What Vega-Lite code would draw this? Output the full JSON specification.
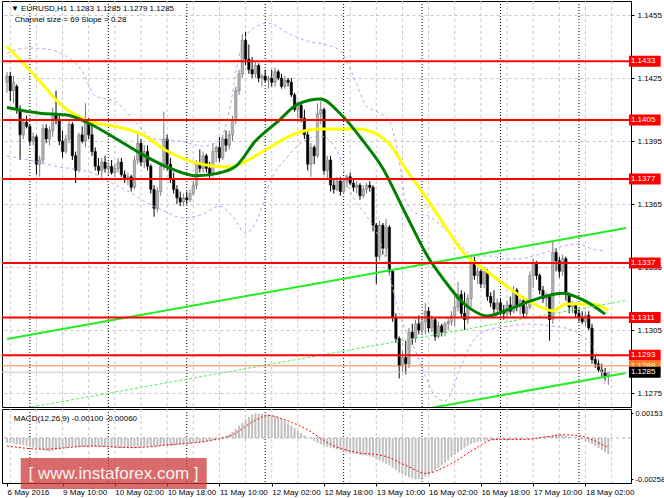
{
  "$schema": "https://vega.github.io/schema/vega-lite/v6.json",
  "background": "white",
  "padding": 0,
  "autosize": {"type": "pad"},
  "spacing": 0,
  "config": {
    "view": {"stroke": "#000000", "strokeWidth": 1},
    "font": "Liberation Sans",
    "axis": {"labelFont": "Liberation Sans", "labelFontSize": 8, "labelColor": "#000000", "tickColor": "#000000", "domainColor": "#000000", "labelOverlap": false, "labelBound": false, "labelFlush": false, "title": null}
  },
  "datasets": {
    "bars": [
      {"i":0,"o":1.1423,"h":1.1428,"l":1.1418,"c":1.1426,"m":-0.0003},
      {"i":1,"o":1.1426,"h":1.1428,"l":1.1414,"c":1.1419,"m":-0.00032},
      {"i":2,"o":1.1419,"h":1.1426,"l":1.1413,"c":1.1423,"m":-0.00035},
      {"i":3,"o":1.1421,"h":1.1422,"l":1.1408,"c":1.141,"m":-0.00038},
      {"i":4,"o":1.141,"h":1.1412,"l":1.1386,"c":1.1398,"m":-0.0004},
      {"i":5,"o":1.1398,"h":1.1406,"l":1.1396,"c":1.1404,"m":-0.00045},
      {"i":6,"o":1.1404,"h":1.1407,"l":1.1401,"c":1.1402,"m":-0.0005},
      {"i":7,"o":1.1402,"h":1.1403,"l":1.1393,"c":1.1395,"m":-0.00055},
      {"i":8,"o":1.1395,"h":1.1399,"l":1.1393,"c":1.1397,"m":-0.0006},
      {"i":9,"o":1.1397,"h":1.1398,"l":1.1379,"c":1.1384,"m":-0.00065},
      {"i":10,"o":1.1384,"h":1.1388,"l":1.1378,"c":1.1386,"m":-0.0007},
      {"i":11,"o":1.1386,"h":1.1403,"l":1.1384,"c":1.1401,"m":-0.00075},
      {"i":12,"o":1.1401,"h":1.1403,"l":1.1394,"c":1.1396,"m":-0.0008},
      {"i":13,"o":1.1396,"h":1.1402,"l":1.1393,"c":1.14,"m":-0.00085},
      {"i":14,"o":1.14,"h":1.1411,"l":1.1397,"c":1.1408,"m":-0.0008},
      {"i":15,"o":1.1408,"h":1.1419,"l":1.1403,"c":1.1405,"m":-0.00075},
      {"i":16,"o":1.1405,"h":1.1407,"l":1.1393,"c":1.1395,"m":-0.0007},
      {"i":17,"o":1.1395,"h":1.14,"l":1.1387,"c":1.139,"m":-0.00066},
      {"i":18,"o":1.139,"h":1.1398,"l":1.1389,"c":1.1396,"m":-0.00062},
      {"i":19,"o":1.1396,"h":1.1405,"l":1.1394,"c":1.1403,"m":-0.00058},
      {"i":20,"o":1.1403,"h":1.1404,"l":1.1386,"c":1.1388,"m":-0.00056},
      {"i":21,"o":1.1388,"h":1.139,"l":1.1375,"c":1.1381,"m":-0.00054},
      {"i":22,"o":1.1381,"h":1.1399,"l":1.138,"c":1.1398,"m":-0.00055},
      {"i":23,"o":1.1398,"h":1.1402,"l":1.1394,"c":1.1395,"m":-0.00057},
      {"i":24,"o":1.1395,"h":1.1413,"l":1.1392,"c":1.1405,"m":-0.00055},
      {"i":25,"o":1.1405,"h":1.1406,"l":1.1396,"c":1.1398,"m":-0.00052},
      {"i":26,"o":1.1398,"h":1.1403,"l":1.1388,"c":1.139,"m":-0.00054},
      {"i":27,"o":1.139,"h":1.1392,"l":1.1381,"c":1.1383,"m":-0.00056},
      {"i":28,"o":1.1383,"h":1.1387,"l":1.1379,"c":1.1381,"m":-0.00058},
      {"i":29,"o":1.1381,"h":1.1387,"l":1.1378,"c":1.1385,"m":-0.00057},
      {"i":30,"o":1.1385,"h":1.1388,"l":1.138,"c":1.1382,"m":-0.00056},
      {"i":31,"o":1.1382,"h":1.1385,"l":1.1379,"c":1.1383,"m":-0.00058},
      {"i":32,"o":1.1383,"h":1.1386,"l":1.1379,"c":1.138,"m":-0.0006},
      {"i":33,"o":1.138,"h":1.1384,"l":1.1378,"c":1.1382,"m":-0.00062},
      {"i":34,"o":1.1382,"h":1.1387,"l":1.138,"c":1.1385,"m":-0.00063},
      {"i":35,"o":1.1385,"h":1.1387,"l":1.1378,"c":1.1379,"m":-0.00062},
      {"i":36,"o":1.1379,"h":1.1381,"l":1.1375,"c":1.1377,"m":-0.0006},
      {"i":37,"o":1.1377,"h":1.138,"l":1.1374,"c":1.1378,"m":-0.00062},
      {"i":38,"o":1.1378,"h":1.1379,"l":1.1371,"c":1.1373,"m":-0.00064},
      {"i":39,"o":1.1373,"h":1.1388,"l":1.1372,"c":1.1386,"m":-0.00062},
      {"i":40,"o":1.1386,"h":1.1399,"l":1.1384,"c":1.1394,"m":-0.0006},
      {"i":41,"o":1.1394,"h":1.1396,"l":1.1383,"c":1.1385,"m":-0.00058},
      {"i":42,"o":1.1385,"h":1.1393,"l":1.1382,"c":1.139,"m":-0.00056},
      {"i":43,"o":1.139,"h":1.1393,"l":1.1381,"c":1.1383,"m":-0.00052},
      {"i":44,"o":1.1383,"h":1.1384,"l":1.137,"c":1.1372,"m":-0.0005},
      {"i":45,"o":1.1372,"h":1.1374,"l":1.1359,"c":1.1363,"m":-0.00052},
      {"i":46,"o":1.1363,"h":1.1373,"l":1.1361,"c":1.1371,"m":-0.00055},
      {"i":47,"o":1.1371,"h":1.1385,"l":1.1369,"c":1.1383,"m":-0.0005},
      {"i":48,"o":1.1383,"h":1.1409,"l":1.1381,"c":1.1396,"m":-0.00045},
      {"i":49,"o":1.1396,"h":1.1398,"l":1.1381,"c":1.1384,"m":-0.00047},
      {"i":50,"o":1.1384,"h":1.1387,"l":1.1375,"c":1.1377,"m":-0.0005},
      {"i":51,"o":1.1377,"h":1.138,"l":1.137,"c":1.1372,"m":-0.00048},
      {"i":52,"o":1.1372,"h":1.1374,"l":1.1365,"c":1.1368,"m":-0.00045},
      {"i":53,"o":1.1368,"h":1.1371,"l":1.1364,"c":1.1366,"m":-0.00042},
      {"i":54,"o":1.1366,"h":1.137,"l":1.1364,"c":1.1368,"m":-0.0004},
      {"i":55,"o":1.1368,"h":1.1371,"l":1.1365,"c":1.1367,"m":-0.00038},
      {"i":56,"o":1.1367,"h":1.1372,"l":1.1366,"c":1.137,"m":-0.00035},
      {"i":57,"o":1.137,"h":1.1376,"l":1.1369,"c":1.1374,"m":-0.00032},
      {"i":58,"o":1.1374,"h":1.1386,"l":1.1372,"c":1.1384,"m":-0.0003},
      {"i":59,"o":1.1384,"h":1.1391,"l":1.138,"c":1.1382,"m":-0.00028},
      {"i":60,"o":1.1382,"h":1.139,"l":1.138,"c":1.1388,"m":-0.00025},
      {"i":61,"o":1.1388,"h":1.1389,"l":1.138,"c":1.1382,"m":-0.00022},
      {"i":62,"o":1.1382,"h":1.1385,"l":1.1377,"c":1.1379,"m":-0.00018},
      {"i":63,"o":1.1379,"h":1.1394,"l":1.1378,"c":1.139,"m":-0.00012},
      {"i":64,"o":1.139,"h":1.1393,"l":1.1385,"c":1.1392,"m":-0.00008},
      {"i":65,"o":1.1392,"h":1.1397,"l":1.1385,"c":1.1387,"m":-0.00003},
      {"i":66,"o":1.1387,"h":1.1398,"l":1.1386,"c":1.1396,"m":0.00002},
      {"i":67,"o":1.1396,"h":1.14,"l":1.139,"c":1.1393,"m":0.0001},
      {"i":68,"o":1.1393,"h":1.14,"l":1.1391,"c":1.1398,"m":0.00022},
      {"i":69,"o":1.1398,"h":1.1407,"l":1.1395,"c":1.1405,"m":0.00038},
      {"i":70,"o":1.1405,"h":1.1421,"l":1.1403,"c":1.1419,"m":0.00055},
      {"i":71,"o":1.1419,"h":1.1429,"l":1.1417,"c":1.1427,"m":0.00075},
      {"i":72,"o":1.1427,"h":1.1446,"l":1.1425,"c":1.1443,"m":0.00095},
      {"i":73,"o":1.1443,"h":1.1447,"l":1.1431,"c":1.1434,"m":0.00115},
      {"i":74,"o":1.1434,"h":1.1441,"l":1.1427,"c":1.1429,"m":0.0013},
      {"i":75,"o":1.1429,"h":1.1435,"l":1.1425,"c":1.1427,"m":0.00145},
      {"i":76,"o":1.1427,"h":1.1433,"l":1.1425,"c":1.1431,"m":0.00153},
      {"i":77,"o":1.1431,"h":1.1432,"l":1.1423,"c":1.1425,"m":0.00152},
      {"i":78,"o":1.1425,"h":1.1427,"l":1.1421,"c":1.1426,"m":0.0015},
      {"i":79,"o":1.1426,"h":1.1429,"l":1.1423,"c":1.1424,"m":0.00148},
      {"i":80,"o":1.1424,"h":1.1426,"l":1.142,"c":1.1425,"m":0.00145},
      {"i":81,"o":1.1425,"h":1.1429,"l":1.1421,"c":1.1423,"m":0.0014},
      {"i":82,"o":1.1423,"h":1.143,"l":1.1421,"c":1.1428,"m":0.00135},
      {"i":83,"o":1.1428,"h":1.1429,"l":1.1424,"c":1.1425,"m":0.00128},
      {"i":84,"o":1.1425,"h":1.1427,"l":1.142,"c":1.1421,"m":0.00118},
      {"i":85,"o":1.1421,"h":1.1426,"l":1.142,"c":1.1424,"m":0.00105},
      {"i":86,"o":1.1424,"h":1.1425,"l":1.1421,"c":1.1423,"m":0.00092},
      {"i":87,"o":1.1423,"h":1.1425,"l":1.1416,"c":1.1417,"m":0.00078},
      {"i":88,"o":1.1417,"h":1.1418,"l":1.1409,"c":1.141,"m":0.00062},
      {"i":89,"o":1.141,"h":1.1414,"l":1.1404,"c":1.1412,"m":0.00045},
      {"i":90,"o":1.1412,"h":1.1413,"l":1.1404,"c":1.1406,"m":0.0003},
      {"i":91,"o":1.1406,"h":1.141,"l":1.1396,"c":1.1398,"m":0.00015},
      {"i":92,"o":1.1398,"h":1.14,"l":1.1381,"c":1.1384,"m":0.00005},
      {"i":93,"o":1.1384,"h":1.1394,"l":1.1378,"c":1.1392,"m":-0.00005},
      {"i":94,"o":1.1392,"h":1.1393,"l":1.1384,"c":1.1388,"m":-0.0002},
      {"i":95,"o":1.1388,"h":1.1413,"l":1.1387,"c":1.1408,"m":-0.0003},
      {"i":96,"o":1.1408,"h":1.1414,"l":1.1403,"c":1.141,"m":-0.0004},
      {"i":97,"o":1.141,"h":1.1411,"l":1.1379,"c":1.1381,"m":-0.00045},
      {"i":98,"o":1.1381,"h":1.1388,"l":1.1377,"c":1.1386,"m":-0.00055},
      {"i":99,"o":1.1386,"h":1.1388,"l":1.1371,"c":1.1374,"m":-0.0006},
      {"i":100,"o":1.1374,"h":1.1377,"l":1.137,"c":1.1372,"m":-0.00065},
      {"i":101,"o":1.1372,"h":1.1378,"l":1.1371,"c":1.1376,"m":-0.0007},
      {"i":102,"o":1.1376,"h":1.1378,"l":1.1369,"c":1.1371,"m":-0.00075},
      {"i":103,"o":1.1371,"h":1.1377,"l":1.137,"c":1.1376,"m":-0.00085},
      {"i":104,"o":1.1376,"h":1.1379,"l":1.1373,"c":1.1378,"m":-0.0009},
      {"i":105,"o":1.1378,"h":1.138,"l":1.1374,"c":1.1375,"m":-0.00095},
      {"i":106,"o":1.1375,"h":1.1377,"l":1.1371,"c":1.1373,"m":-0.00098},
      {"i":107,"o":1.1373,"h":1.1376,"l":1.137,"c":1.1374,"m":-0.001},
      {"i":108,"o":1.1374,"h":1.1375,"l":1.1367,"c":1.1369,"m":-0.00105},
      {"i":109,"o":1.1369,"h":1.1374,"l":1.1368,"c":1.1372,"m":-0.00108},
      {"i":110,"o":1.1372,"h":1.1375,"l":1.137,"c":1.1374,"m":-0.0011},
      {"i":111,"o":1.1374,"h":1.1376,"l":1.1371,"c":1.1373,"m":-0.00115},
      {"i":112,"o":1.1373,"h":1.1374,"l":1.1352,"c":1.1355,"m":-0.0012},
      {"i":113,"o":1.1355,"h":1.1356,"l":1.1327,"c":1.134,"m":-0.0013},
      {"i":114,"o":1.134,"h":1.1357,"l":1.1338,"c":1.1355,"m":-0.0014},
      {"i":115,"o":1.1355,"h":1.1356,"l":1.1341,"c":1.1344,"m":-0.0015},
      {"i":116,"o":1.1344,"h":1.1358,"l":1.134,"c":1.1354,"m":-0.0016},
      {"i":117,"o":1.1354,"h":1.1355,"l":1.1331,"c":1.1333,"m":-0.0017},
      {"i":118,"o":1.1333,"h":1.1334,"l":1.1309,"c":1.1311,"m":-0.00185},
      {"i":119,"o":1.1311,"h":1.1313,"l":1.1299,"c":1.1301,"m":-0.002},
      {"i":120,"o":1.1301,"h":1.1302,"l":1.1282,"c":1.1288,"m":-0.00215},
      {"i":121,"o":1.1288,"h":1.1295,"l":1.1285,"c":1.1292,"m":-0.00225},
      {"i":122,"o":1.1292,"h":1.13,"l":1.1284,"c":1.1289,"m":-0.00235},
      {"i":123,"o":1.1289,"h":1.1306,"l":1.1287,"c":1.1304,"m":-0.00245},
      {"i":124,"o":1.1304,"h":1.1308,"l":1.1298,"c":1.1301,"m":-0.00252},
      {"i":125,"o":1.1301,"h":1.131,"l":1.1299,"c":1.1308,"m":-0.00258},
      {"i":126,"o":1.1308,"h":1.1312,"l":1.1303,"c":1.1305,"m":-0.00255},
      {"i":127,"o":1.1305,"h":1.1311,"l":1.1303,"c":1.1309,"m":-0.00248},
      {"i":128,"o":1.1309,"h":1.1318,"l":1.1303,"c":1.1314,"m":-0.0024},
      {"i":129,"o":1.1314,"h":1.1316,"l":1.1304,"c":1.1306,"m":-0.0023},
      {"i":130,"o":1.1306,"h":1.1312,"l":1.1304,"c":1.131,"m":-0.00215},
      {"i":131,"o":1.131,"h":1.1311,"l":1.13,"c":1.1302,"m":-0.002},
      {"i":132,"o":1.1302,"h":1.1309,"l":1.1301,"c":1.1307,"m":-0.00185},
      {"i":133,"o":1.1307,"h":1.1308,"l":1.1302,"c":1.1304,"m":-0.0017},
      {"i":134,"o":1.1304,"h":1.1309,"l":1.1302,"c":1.1308,"m":-0.00155},
      {"i":135,"o":1.1308,"h":1.1311,"l":1.1305,"c":1.1309,"m":-0.0014},
      {"i":136,"o":1.1309,"h":1.1314,"l":1.1307,"c":1.1312,"m":-0.0012},
      {"i":137,"o":1.1312,"h":1.1321,"l":1.1307,"c":1.1316,"m":-0.00105},
      {"i":138,"o":1.1316,"h":1.1328,"l":1.1314,"c":1.1322,"m":-0.0009},
      {"i":139,"o":1.1322,"h":1.1324,"l":1.1311,"c":1.1313,"m":-0.00075},
      {"i":140,"o":1.1313,"h":1.1323,"l":1.1305,"c":1.131,"m":-0.0006},
      {"i":141,"o":1.131,"h":1.1322,"l":1.1308,"c":1.132,"m":-0.00048},
      {"i":142,"o":1.132,"h":1.1341,"l":1.1316,"c":1.1338,"m":-0.00038},
      {"i":143,"o":1.1338,"h":1.134,"l":1.1329,"c":1.1331,"m":-0.0003},
      {"i":144,"o":1.1331,"h":1.1335,"l":1.1327,"c":1.1333,"m":-0.00025},
      {"i":145,"o":1.1333,"h":1.1334,"l":1.1325,"c":1.1327,"m":-0.0002},
      {"i":146,"o":1.1327,"h":1.1335,"l":1.1325,"c":1.1333,"m":-0.00018},
      {"i":147,"o":1.1333,"h":1.1334,"l":1.1319,"c":1.1321,"m":-0.00015},
      {"i":148,"o":1.1321,"h":1.1323,"l":1.1316,"c":1.1318,"m":-0.00014},
      {"i":149,"o":1.1318,"h":1.1324,"l":1.1313,"c":1.1315,"m":-0.00015},
      {"i":150,"o":1.1315,"h":1.132,"l":1.1313,"c":1.1318,"m":-0.00013},
      {"i":151,"o":1.1318,"h":1.132,"l":1.1312,"c":1.1314,"m":-0.00012},
      {"i":152,"o":1.1314,"h":1.1317,"l":1.131,"c":1.1313,"m":-0.00014},
      {"i":153,"o":1.1313,"h":1.1319,"l":1.1311,"c":1.1317,"m":-0.00013},
      {"i":154,"o":1.1317,"h":1.1321,"l":1.1312,"c":1.1314,"m":-0.00012},
      {"i":155,"o":1.1314,"h":1.1326,"l":1.1313,"c":1.1324,"m":-0.00011},
      {"i":156,"o":1.1324,"h":1.1325,"l":1.1314,"c":1.1316,"m":-0.0001},
      {"i":157,"o":1.1316,"h":1.132,"l":1.1312,"c":1.1319,"m":-0.00012},
      {"i":158,"o":1.1319,"h":1.1321,"l":1.1311,"c":1.1313,"m":-0.0001},
      {"i":159,"o":1.1313,"h":1.1318,"l":1.1311,"c":1.1316,"m":-0.00008},
      {"i":160,"o":1.1316,"h":1.1333,"l":1.1315,"c":1.1331,"m":-0.00005},
      {"i":161,"o":1.1331,"h":1.1339,"l":1.1325,"c":1.1337,"m":-0.00002},
      {"i":162,"o":1.1337,"h":1.1338,"l":1.1329,"c":1.1331,"m":0.00002},
      {"i":163,"o":1.1331,"h":1.1332,"l":1.1322,"c":1.1324,"m":0.00005},
      {"i":164,"o":1.1324,"h":1.1326,"l":1.1318,"c":1.132,"m":0.00008},
      {"i":165,"o":1.132,"h":1.1323,"l":1.1316,"c":1.1321,"m":0.0001},
      {"i":166,"o":1.1321,"h":1.1322,"l":1.13,"c":1.131,"m":0.00012},
      {"i":167,"o":1.131,"h":1.1347,"l":1.1308,"c":1.1342,"m":0.00015},
      {"i":168,"o":1.1342,"h":1.1344,"l":1.1333,"c":1.1338,"m":0.0002},
      {"i":169,"o":1.1338,"h":1.134,"l":1.133,"c":1.1333,"m":0.00022},
      {"i":170,"o":1.1333,"h":1.1341,"l":1.1331,"c":1.1339,"m":0.00018},
      {"i":171,"o":1.1339,"h":1.134,"l":1.1319,"c":1.1322,"m":0.00012},
      {"i":172,"o":1.1322,"h":1.1323,"l":1.1313,"c":1.1316,"m":0.00008},
      {"i":173,"o":1.1316,"h":1.1319,"l":1.1313,"c":1.1317,"m":0.00003},
      {"i":174,"o":1.1317,"h":1.1318,"l":1.1311,"c":1.1313,"m":-0.00002},
      {"i":175,"o":1.1313,"h":1.1315,"l":1.1309,"c":1.1311,"m":-0.00006},
      {"i":176,"o":1.1311,"h":1.1314,"l":1.1308,"c":1.1309,"m":-0.0001},
      {"i":177,"o":1.1309,"h":1.1314,"l":1.1307,"c":1.1312,"m":-0.0002},
      {"i":178,"o":1.1312,"h":1.1314,"l":1.1305,"c":1.1306,"m":-0.00028},
      {"i":179,"o":1.1306,"h":1.1308,"l":1.1289,"c":1.1291,"m":-0.00038},
      {"i":180,"o":1.1291,"h":1.1293,"l":1.1287,"c":1.1289,"m":-0.0005},
      {"i":181,"o":1.1289,"h":1.1291,"l":1.1285,"c":1.1286,"m":-0.00062},
      {"i":182,"o":1.1286,"h":1.1289,"l":1.1283,"c":1.1285,"m":-0.00075},
      {"i":183,"o":1.1285,"h":1.1287,"l":1.1281,"c":1.1283,"m":-0.00088},
      {"i":184,"o":1.1283,"h":1.1285,"l":1.1279,"c":1.1285,"m":-0.001}
    ],
    "maY": [
      {"i":0,"v":1.144},{"i":10,"v":1.14236},{"i":16,"v":1.1413},{"i":25,"v":1.14045},{"i":33,"v":1.1402},
      {"i":41,"v":1.13984},{"i":49,"v":1.13903},{"i":58,"v":1.13846},{"i":68,"v":1.13827},{"i":72,"v":1.13846},
      {"i":80,"v":1.13917},{"i":88,"v":1.13984},{"i":95,"v":1.14007},{"i":107,"v":1.14007},{"i":113,"v":1.13984},
      {"i":118,"v":1.13917},{"i":121,"v":1.13841},{"i":129,"v":1.13664},{"i":135,"v":1.13522},{"i":140,"v":1.13412},
      {"i":146,"v":1.1334},{"i":152,"v":1.1327},{"i":158,"v":1.13203},{"i":164,"v":1.13155},{"i":167,"v":1.13141},
      {"i":171,"v":1.13174},{"i":179,"v":1.13174},{"i":184,"v":1.13145}
    ],
    "maG": [
      {"i":0,"v":1.1411},{"i":10,"v":1.14083},{"i":18,"v":1.14075},{"i":25,"v":1.14035},{"i":33,"v":1.13965},
      {"i":41,"v":1.1389},{"i":50,"v":1.1382},{"i":58,"v":1.13785},{"i":64,"v":1.13795},{"i":70,"v":1.1383},
      {"i":76,"v":1.1395},{"i":83,"v":1.14045},{"i":89,"v":1.14126},{"i":96,"v":1.1415},{"i":102,"v":1.1408},
      {"i":109,"v":1.1395},{"i":115,"v":1.1382},{"i":122,"v":1.13603},{"i":129,"v":1.13393},{"i":134,"v":1.13283},
      {"i":139,"v":1.13188},{"i":142,"v":1.1315},{"i":147,"v":1.13117},{"i":152,"v":1.1314},{"i":160,"v":1.13188},
      {"i":165,"v":1.13212},{"i":170,"v":1.13226},{"i":177,"v":1.13188},{"i":183,"v":1.13126}
    ],
    "bands": [
      {"s":"u","i":0,"v":1.14369},{"s":"u","i":6,"v":1.14393},{"s":"u","i":12,"v":1.14388},{"s":"u","i":18,"v":1.14355},
      {"s":"u","i":23,"v":1.14283},{"s":"u","i":27,"v":1.14164},{"s":"u","i":33,"v":1.1414},{"s":"u","i":39,"v":1.14045},
      {"s":"u","i":45,"v":1.1396},{"s":"u","i":53,"v":1.1395},{"s":"u","i":60,"v":1.13926},{"s":"u","i":65,"v":1.1395},
      {"s":"u","i":68,"v":1.14093},{"s":"u","i":71,"v":1.14355},{"s":"u","i":75,"v":1.14483},{"s":"u","i":80,"v":1.14512},
      {"s":"u","i":86,"v":1.14464},{"s":"u","i":92,"v":1.14426},{"s":"u","i":98,"v":1.14407},{"s":"u","i":102,"v":1.14379},
      {"s":"u","i":106,"v":1.1426},{"s":"u","i":110,"v":1.14117},{"s":"u","i":114,"v":1.14084},{"s":"u","i":117,"v":1.14045},
      {"s":"u","i":120,"v":1.13855},{"s":"u","i":122,"v":1.13665},{"s":"u","i":125,"v":1.13607},{"s":"u","i":129,"v":1.13593},
      {"s":"u","i":134,"v":1.13531},{"s":"u","i":139,"v":1.1345},{"s":"u","i":143,"v":1.13403},{"s":"u","i":148,"v":1.13403},
      {"s":"u","i":152,"v":1.13389},{"s":"u","i":157,"v":1.13389},{"s":"u","i":161,"v":1.13403},{"s":"u","i":166,"v":1.13426},
      {"s":"u","i":170,"v":1.1345},{"s":"u","i":175,"v":1.1346},{"s":"u","i":179,"v":1.13436},{"s":"u","i":183,"v":1.13426},
      {"s":"l","i":0,"v":1.13879},{"s":"l","i":8,"v":1.13855},{"s":"l","i":15,"v":1.1383},{"s":"l","i":26,"v":1.13798},
      {"s":"l","i":32,"v":1.1375},{"s":"l","i":37,"v":1.13712},{"s":"l","i":42,"v":1.13664},{"s":"l","i":48,"v":1.13617},
      {"s":"l","i":54,"v":1.13584},{"s":"l","i":60,"v":1.13603},{"s":"l","i":65,"v":1.13641},{"s":"l","i":69,"v":1.13593},
      {"s":"l","i":73,"v":1.13512},{"s":"l","i":77,"v":1.13593},{"s":"l","i":80,"v":1.13736},{"s":"l","i":86,"v":1.13879},
      {"s":"l","i":92,"v":1.1396},{"s":"l","i":96,"v":1.13974},{"s":"l","i":101,"v":1.13903},{"s":"l","i":105,"v":1.13712},
      {"s":"l","i":110,"v":1.13593},{"s":"l","i":113,"v":1.13521},{"s":"l","i":116,"v":1.13379},{"s":"l","i":119,"v":1.13188},
      {"s":"l","i":122,"v":1.13045},{"s":"l","i":125,"v":1.1295},{"s":"l","i":128,"v":1.12831},{"s":"l","i":131,"v":1.12736},
      {"s":"l","i":134,"v":1.12713},{"s":"l","i":139,"v":1.1288},{"s":"l","i":143,"v":1.13008},{"s":"l","i":148,"v":1.13055},
      {"s":"l","i":154,"v":1.1307},{"s":"l","i":160,"v":1.13079},{"s":"l","i":166,"v":1.1307},{"s":"l","i":172,"v":1.13055},
      {"s":"l","i":176,"v":1.13021},{"s":"l","i":180,"v":1.1295},{"s":"l","i":183,"v":1.12784}
    ],
    "chSolid": [
      {"s":"u","i":0,"v":1.13008},{"s":"u","i":189.4,"v":1.13536},
      {"s":"l","i":0,"v":1.12318},{"s":"l","i":189.4,"v":1.12846}
    ],
    "chMid": [{"i":0,"v":1.12663},{"i":189.4,"v":1.13191}],
    "levels": [
      {"v":1.1433,"k":"r"},{"v":1.1405,"k":"r"},{"v":1.1377,"k":"r"},{"v":1.1337,"k":"r"},
      {"v":1.1311,"k":"r"},{"v":1.1293,"k":"r"},{"v":1.1288,"k":"o"},{"v":1.1285,"k":"b"}
    ],
    "vg": [{"i":1},{"i":9},{"i":17},{"i":25},{"i":33},{"i":41},{"i":49},{"i":57},{"i":65},{"i":73},{"i":81},{"i":89},{"i":97},{"i":105},{"i":113},{"i":121},{"i":129},{"i":137},{"i":145},{"i":153},{"i":161},{"i":169},{"i":177},{"i":185}],
    "vd": [{"i":7},{"i":31},{"i":55},{"i":79},{"i":103},{"i":127},{"i":151},{"i":175}],
    "sig": [
      {"i":0,"v":-0.0005},{"i":11,"v":-0.0007},{"i":26,"v":-0.0005},{"i":38,"v":-0.0006},{"i":51,"v":-0.0004},
      {"i":61,"v":-0.0002},{"i":69,"v":0.0002},{"i":76,"v":0.0011},{"i":80,"v":0.0014},{"i":84,"v":0.0012},
      {"i":92,"v":0.0005},{"i":99,"v":-0.0004},{"i":107,"v":-0.0009},{"i":115,"v":-0.0011},{"i":123,"v":-0.0018},
      {"i":128,"v":-0.0022},{"i":135,"v":-0.0017},{"i":143,"v":-0.0007},{"i":149,"v":-0.0001},{"i":158,"v":-0.0001},
      {"i":166,"v":0.0001},{"i":170,"v":0.0002},{"i":176,"v":0.0001},{"i":182,"v":-0.0004},{"i":184,"v":-0.0006}
    ]
  },
  "vconcat": [
    {
      "width": 629,
      "height": 406,
      "layer": [
        {
          "data": {"name": "vg"},
          "mark": {"type": "rule", "color": "#c8c8c8", "strokeDash": [3, 3], "strokeWidth": 1},
          "encoding": {
            "x": {"field": "i", "type": "quantitative", "scale": {"domain": [0, 189.4], "nice": false, "zero": false}, "axis": null}
          }
        },
        {
          "data": {"name": "vd"},
          "mark": {"type": "rule", "color": "#000000", "strokeDash": [1, 2], "strokeWidth": 1},
          "encoding": {"x": {"field": "i", "type": "quantitative"}}
        },
        {
          "data": {"name": "bars"},
          "mark": {"type": "rule", "strokeWidth": 1},
          "encoding": {
            "x": {"field": "i", "type": "quantitative"},
            "y": {
              "field": "l", "type": "quantitative",
              "scale": {"domain": [1.12684, 1.14617], "nice": false, "zero": false},
              "axis": {
                "orient": "right",
                "values": [1.1455, 1.144, 1.1425, 1.141, 1.1395, 1.138, 1.1365, 1.135, 1.1335, 1.132, 1.1305, 1.129, 1.1275],
                "format": ".4f", "grid": true, "gridColor": "#c8c8c8", "gridDash": [3, 3],
                "tickSize": 3, "labelPadding": 3
              }
            },
            "y2": {"field": "h"},
            "stroke": {"condition": {"test": "datum.c >= datum.o", "value": "#7a7a7a"}, "value": "#000000"}
          }
        },
        {
          "data": {"name": "bars"},
          "mark": {"type": "bar", "size": 2.4, "strokeWidth": 0.5},
          "encoding": {
            "x": {"field": "i", "type": "quantitative"},
            "y": {"field": "o", "type": "quantitative"},
            "y2": {"field": "c"},
            "fill": {"condition": {"test": "datum.c >= datum.o", "value": "#b4b4b4"}, "value": "#000000"},
            "stroke": {"condition": {"test": "datum.c >= datum.o", "value": "#6e6e6e"}, "value": "#000000"}
          }
        },
        {
          "data": {"name": "bands"},
          "mark": {"type": "line", "color": "#cc99ee", "strokeDash": [3, 3], "strokeWidth": 1, "interpolate": "monotone", "clip": true},
          "encoding": {
            "x": {"field": "i", "type": "quantitative"},
            "y": {"field": "v", "type": "quantitative"},
            "detail": {"field": "s"}
          }
        },
        {
          "data": {"name": "maY"},
          "mark": {"type": "line", "color": "#ffff00", "strokeWidth": 3, "interpolate": "monotone", "clip": true},
          "encoding": {"x": {"field": "i", "type": "quantitative"}, "y": {"field": "v", "type": "quantitative"}}
        },
        {
          "data": {"name": "maG"},
          "mark": {"type": "line", "color": "#008000", "strokeWidth": 3, "interpolate": "monotone", "clip": true},
          "encoding": {"x": {"field": "i", "type": "quantitative"}, "y": {"field": "v", "type": "quantitative"}}
        },
        {
          "data": {"name": "chMid"},
          "mark": {"type": "line", "color": "#55ee55", "strokeDash": [3, 2], "strokeWidth": 1, "clip": true},
          "encoding": {"x": {"field": "i", "type": "quantitative"}, "y": {"field": "v", "type": "quantitative"}}
        },
        {
          "data": {"name": "chSolid"},
          "mark": {"type": "line", "color": "#22ee22", "strokeWidth": 2, "clip": true},
          "encoding": {
            "x": {"field": "i", "type": "quantitative"},
            "y": {"field": "v", "type": "quantitative"},
            "detail": {"field": "s"}
          }
        },
        {
          "data": {"name": "levels"},
          "mark": {"type": "rule"},
          "encoding": {
            "y": {"field": "v", "type": "quantitative"},
            "stroke": {"condition": [{"test": "datum.k == 'o'", "value": "#ff7f50"}, {"test": "datum.k == 'b'", "value": "#c8c8c8"}], "value": "#ff0000"},
            "strokeWidth": {"condition": {"test": "datum.k == 'r'", "value": 2}, "value": 1}
          }
        },
        {
          "data": {"name": "levels"},
          "transform": [{"filter": "datum.k != 'b'"}],
          "mark": {"type": "rule", "strokeWidth": 11, "strokeCap": "butt"},
          "encoding": {
            "x": {"datum": 190.3},
            "x2": {"datum": 200},
            "y": {"field": "v", "type": "quantitative"},
            "stroke": {"condition": {"test": "datum.k == 'o'", "value": "#ff7f27"}, "value": "#ff0000"}
          }
        },
        {
          "data": {"name": "levels"},
          "transform": [{"filter": "datum.k != 'b'"}],
          "mark": {"type": "text", "align": "left", "baseline": "middle", "fontSize": 8, "font": "Liberation Sans", "color": "#ffffff"},
          "encoding": {
            "x": {"datum": 190.9},
            "y": {"field": "v", "type": "quantitative"},
            "text": {"field": "v", "type": "quantitative", "format": ".4f"}
          }
        },
        {
          "data": {"name": "levels"},
          "transform": [{"filter": "datum.k == 'b'"}],
          "mark": {"type": "rule", "strokeWidth": 11, "strokeCap": "butt", "color": "#000000"},
          "encoding": {
            "x": {"datum": 190.3},
            "x2": {"datum": 200},
            "y": {"field": "v", "type": "quantitative"}
          }
        },
        {
          "data": {"name": "levels"},
          "transform": [{"filter": "datum.k == 'b'"}],
          "mark": {"type": "text", "align": "left", "baseline": "middle", "fontSize": 8, "font": "Liberation Sans", "color": "#ffffff"},
          "encoding": {
            "x": {"datum": 190.9},
            "y": {"field": "v", "type": "quantitative"},
            "text": {"field": "v", "type": "quantitative", "format": ".4f"}
          }
        },
        {
          "data": {"values": [{"t": "▼ EURUSD,H1 1.1283 1.1285 1.1279 1.1285"}]},
          "mark": {"type": "text", "align": "left", "baseline": "top", "fontSize": 8, "font": "Liberation Sans", "color": "#000000"},
          "encoding": {
            "x": {"datum": 1.2},
            "y": {"datum": 1.14598},
            "text": {"field": "t"}
          }
        },
        {
          "data": {"values": [{"t": "Channel size = 69 Slope = 0.28"}]},
          "mark": {"type": "text", "align": "left", "baseline": "top", "fontSize": 8, "font": "Liberation Sans", "color": "#000000"},
          "encoding": {
            "x": {"datum": 2.4},
            "y": {"datum": 1.14546},
            "text": {"field": "t"}
          }
        }
      ]
    },
    {
      "width": 629,
      "height": 74,
      "layer": [
        {
          "data": {"name": "vg"},
          "mark": {"type": "rule", "color": "#c8c8c8", "strokeDash": [3, 3], "strokeWidth": 1},
          "encoding": {
            "x": {
              "field": "i", "type": "quantitative",
              "scale": {"domain": [0, 189.4], "nice": false, "zero": false},
              "axis": {
                "orient": "bottom",
                "values": [0, 17, 33, 49, 65, 81, 97, 113, 129, 145, 161, 177],
                "labelExpr": "datum.value == 0 ? '6 May 2016' : datum.value == 17 ? '9 May 10:00' : datum.value == 33 ? '10 May 02:00' : datum.value == 49 ? '10 May 18:00' : datum.value == 65 ? '11 May 10:00' : datum.value == 81 ? '12 May 02:00' : datum.value == 97 ? '12 May 18:00' : datum.value == 113 ? '13 May 10:00' : datum.value == 129 ? '16 May 02:00' : datum.value == 145 ? '16 May 18:00' : datum.value == 161 ? '17 May 10:00' : '18 May 02:00'",
                "labelAlign": "left", "labelPadding": 2, "tickSize": 3, "grid": false, "domain": true
              }
            }
          }
        },
        {
          "data": {"name": "vd"},
          "mark": {"type": "rule", "color": "#000000", "strokeDash": [1, 2], "strokeWidth": 1},
          "encoding": {"x": {"field": "i", "type": "quantitative"}}
        },
        {
          "data": {"name": "bars"},
          "mark": {"type": "bar", "size": 2, "color": "#c0c0c0"},
          "encoding": {
            "x": {"field": "i", "type": "quantitative"},
            "y": {
              "field": "m", "type": "quantitative",
              "scale": {"domain": [-0.0028, 0.0018], "nice": false, "zero": false},
              "axis": {
                "orient": "right",
                "values": [0.00153, 0, -0.00258],
                "labelExpr": "datum.value == 0 ? '0.00' : datum.value > 0 ? '0.00153' : '-0.00258'",
                "grid": false, "tickSize": 2, "labelPadding": 2, "labelFontSize": 7.5
              }
            },
            "y2": {"datum": 0}
          }
        },
        {
          "data": {"values": [{"z": 0}]},
          "mark": {"type": "rule", "color": "#b0b0b0", "strokeDash": [3, 3], "strokeWidth": 1},
          "encoding": {"y": {"field": "z", "type": "quantitative"}}
        },
        {
          "data": {"name": "sig"},
          "mark": {"type": "line", "color": "#ff0000", "strokeDash": [2, 2], "strokeWidth": 1, "interpolate": "monotone"},
          "encoding": {"x": {"field": "i", "type": "quantitative"}, "y": {"field": "v", "type": "quantitative"}}
        },
        {
          "data": {"values": [{"t": "MACD(12,26,9) -0.00100 -0.00060"}]},
          "mark": {"type": "text", "align": "left", "baseline": "top", "fontSize": 8, "font": "Liberation Sans", "color": "#000000"},
          "encoding": {
            "x": {"datum": 2.1},
            "y": {"datum": 0.00143},
            "text": {"field": "t"}
          }
        },
        {
          "data": {"values": [{"t": "[ www.instaforex.com ]"}]},
          "mark": {"type": "rect", "color": "#cc3a3a", "opacity": 0.75},
          "encoding": {
            "x": {"datum": 4.2},
            "x2": {"datum": 61.1},
            "y": {"datum": -0.00125},
            "y2": {"datum": -0.00317}
          }
        },
        {
          "data": {"values": [{"t": "[ www.instaforex.com ]"}]},
          "mark": {"type": "text", "align": "center", "baseline": "middle", "fontSize": 17, "font": "Liberation Sans", "color": "#ffffff", "opacity": 0.92},
          "encoding": {
            "x": {"datum": 32.6},
            "y": {"datum": -0.00224},
            "text": {"field": "t"}
          }
        }
      ]
    }
  ]
}
